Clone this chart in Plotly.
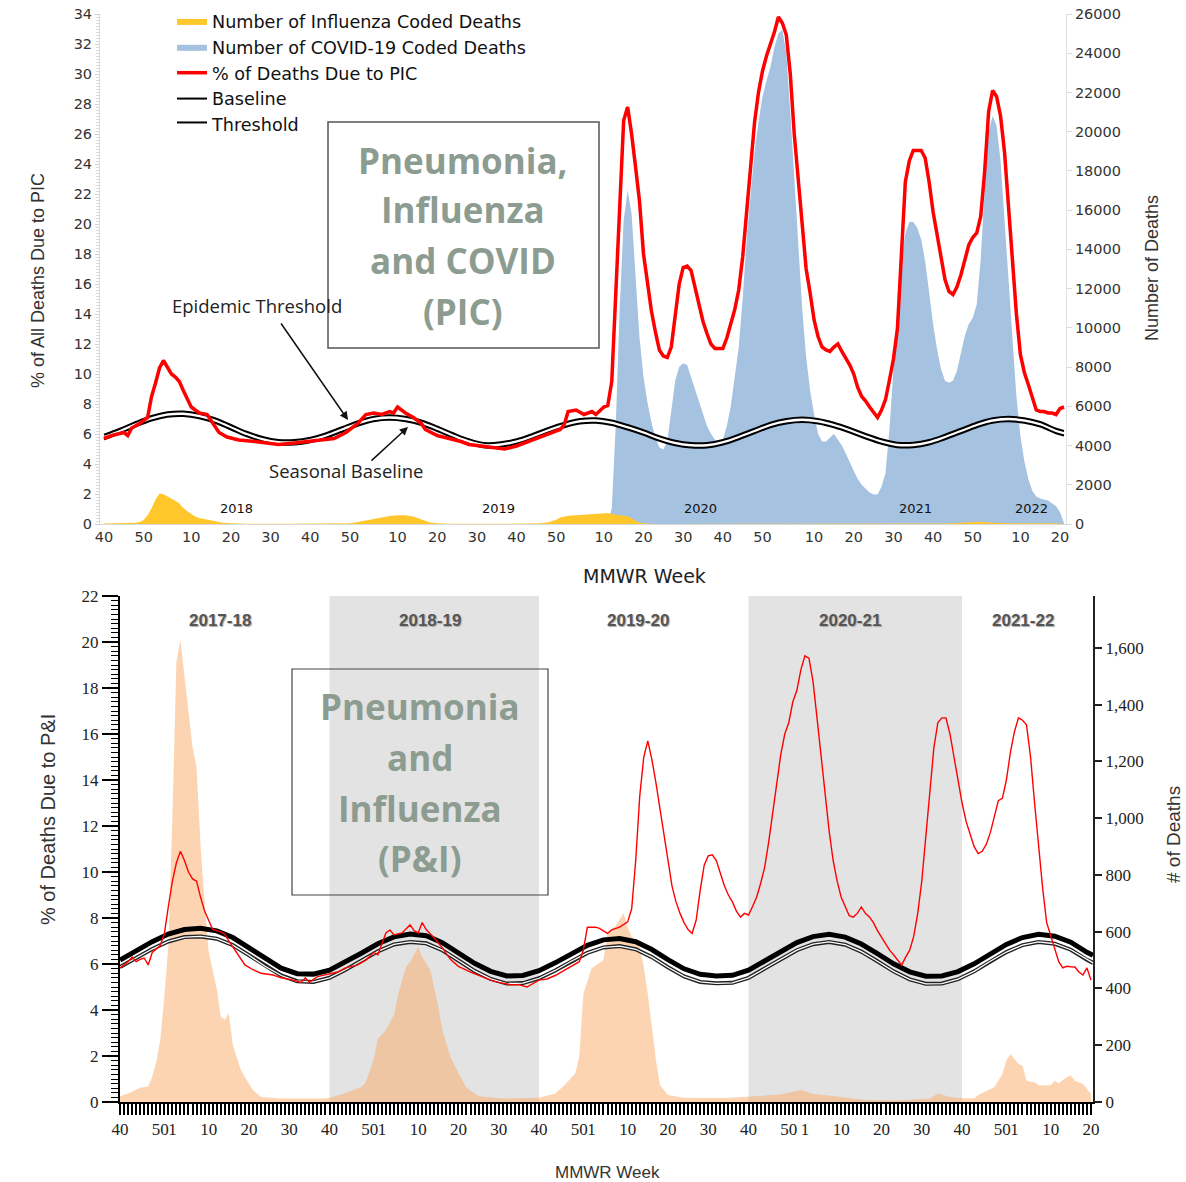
import plotly.graph_objects as go

W, H = 1186, 1182

# ---------------- TOP CHART DATA (week index 0 = MMWR week 40 of 2017) ----------------
PIC_WEEKS = [0, 2, 5, 6, 7, 9, 11, 12, 13, 14, 15, 16, 17, 18, 19, 20, 21, 22, 23, 24, 26, 27, 28, 29, 31, 34, 38,
             41, 44, 48, 51, 54, 58, 61, 64, 66, 68, 70, 72, 73, 74, 75, 76, 78, 80, 81, 84, 87, 90, 92, 95, 99,
             101, 104, 107, 111, 114, 115, 116, 117, 119, 121, 123, 124, 126, 127, 128, 129, 130, 131, 132, 133,
             134, 135, 136, 137, 138, 139, 140, 141, 142, 143, 144, 145, 146, 147, 148, 149, 150, 151, 152, 153,
             154, 156, 157, 158, 159, 160, 161, 162, 163, 164, 165, 166, 167, 168, 169, 170, 171, 172, 173, 174,
             175, 176, 177, 178, 179, 180, 181, 182, 183, 184, 185, 186, 187, 188, 189, 190, 191, 192, 193, 194,
             195, 196, 197, 198, 199, 200, 201, 202, 203, 204, 205, 206, 207, 208, 209, 210, 211, 212, 213, 214,
             215, 216, 217, 218, 219, 220, 221, 222, 223, 224, 225, 226, 227, 228, 229, 230, 231, 232, 233, 234,
             235, 236, 237, 238, 239, 240, 241, 242]
PIC_PCT = [5.7, 5.9, 6.1, 5.9, 6.4, 6.7, 7.1, 8.5, 9.4, 10.4, 10.9, 10.4, 10.0, 9.8, 9.5, 8.9, 8.3, 7.8, 7.6, 7.4,
           7.3, 6.9, 6.5, 6.1, 5.8, 5.6, 5.5, 5.4, 5.3, 5.4, 5.5, 5.6, 5.7, 6.1, 6.7, 7.3, 7.4, 7.3, 7.5, 7.4, 7.8,
           7.6, 7.4, 7.1, 6.7, 6.3, 5.9, 5.7, 5.5, 5.3, 5.2, 5.1, 5.0, 5.2, 5.5, 5.9, 6.2, 6.3, 6.6, 7.5, 7.6, 7.3,
           7.5, 7.3, 7.8, 7.9, 9.5, 15.5, 22.0, 26.9, 27.8, 26.0, 23.8, 21.5, 18.0, 16.0, 14.2, 12.8, 11.6, 11.2,
           11.1, 11.8, 14.0, 16.0, 17.1, 17.2, 16.9, 15.8, 14.5, 13.5, 12.7, 12.0, 11.7, 11.7, 12.4, 13.3, 14.3,
           15.6, 17.8, 20.8, 24.0, 26.8, 28.8, 30.2, 31.2, 32.0, 32.8, 33.8, 33.4, 32.6, 30.0, 26.0, 23.0, 19.5,
           17.0, 15.4, 13.6, 12.5, 11.8, 11.6, 11.5, 11.8, 12.0, 11.5, 11.1, 10.6, 10.0, 9.1, 8.5, 8.2, 7.8, 7.4,
           7.1, 7.6, 8.3, 9.6, 11.0, 13.0, 18.5, 22.8, 24.2, 24.9, 24.9, 24.9, 24.4, 22.8, 20.8, 19.4, 17.8, 16.3,
           15.5, 15.3, 15.8, 16.6, 17.6, 18.6, 19.1, 19.4, 20.5, 23.5, 27.5, 28.9, 28.5, 27.2, 24.8, 21.2, 17.4,
           14.0, 11.3, 10.1, 9.3, 8.4, 7.6, 7.5, 7.5, 7.4, 7.4, 7.3, 7.7, 7.8]

FLU_TOP_WEEKS = [0, 5, 8, 9, 10, 11, 12, 13, 14, 15, 16, 17, 18, 19, 20, 21, 22, 23, 24, 25, 26, 27, 28, 29, 30, 32,
                 36, 45, 55, 60, 62, 64, 66, 68, 70, 72, 74, 76, 78, 80, 82, 84, 88, 100, 106, 110, 112, 114, 115,
                 117, 119, 121, 123, 125, 127, 128, 129, 130, 131, 132, 133, 134, 135, 137, 140, 170, 212, 216,
                 219, 221, 223, 226, 232, 240, 242]
FLU_TOP_DEATHS = [20, 30, 60, 100, 200, 450, 800, 1250, 1560, 1520, 1420, 1300, 1180, 1050, 820, 650, 500, 380, 300,
                  260, 220, 160, 120, 90, 60, 35, 15, 10, 15, 25, 40, 100, 180, 260, 330, 410, 450, 440, 380, 220,
                  90, 35, 12, 10, 20, 40, 90, 220, 330, 420, 440, 470, 500, 540, 560, 510, 480, 470, 450, 400, 300,
                  150, 60, 15, 5, 5, 20, 60, 110, 120, 80, 50, 40, 40, 0]

COVID_WEEKS = list(range(127, 243))
COVID_DEATHS = [0, 800, 5000, 11000, 15500, 17000, 15800, 12800, 9500, 7500, 6200, 5200, 4400, 3900, 3800, 4200,
                5800, 7300, 8000, 8200, 8100, 7500, 6900, 6300, 5600, 5000, 4600, 4300, 4200, 4300, 5000, 6000,
                7500, 9000, 11500, 14500, 16800, 19000, 20500, 21800, 22600, 23300, 24300, 25000, 25200, 24000,
                21000, 17500, 14000, 11000, 8500, 6800, 5600, 4600, 4200, 4200, 4400, 4600, 4300, 4000, 3600, 3100,
                2700, 2300, 2000, 1800, 1600, 1500, 1500, 1900, 2600, 4800, 8000, 11000, 13500, 14800, 15400,
                15400, 15100, 14500, 13400, 11800, 10200, 8900, 7900, 7300, 7200, 7300, 7800, 8700, 9600, 10200,
                10500, 11200, 13500, 17000, 20000, 20800, 20300, 18500, 15500, 12000, 9000, 6500, 4500, 3200,
                2300, 1700, 1400, 1300, 1250, 1200, 1050, 900, 600, 50]

TOP_CURVE_WEEKS = [0, 4, 8, 12, 16, 20, 24, 28, 32, 36, 40, 44, 48, 52, 56, 60, 64, 68, 72, 76, 80, 84, 88, 92, 96,
                   100, 104, 108, 112, 116, 120, 124, 128, 132, 136, 140, 144, 148, 152, 156, 160, 164, 168, 172,
                   176, 180, 184, 188, 192, 196, 200, 204, 208, 212, 216, 220, 224, 228, 232, 236, 240, 242]
TOP_BASELINE = [5.65, 6.05, 6.5, 6.9, 7.15, 7.2, 7.05, 6.75, 6.3, 5.85, 5.5, 5.3, 5.3, 5.45, 5.75, 6.15, 6.55,
                6.85, 6.95, 6.85, 6.6, 6.2, 5.75, 5.35, 5.1, 5.15, 5.35, 5.7, 6.1, 6.45, 6.7, 6.75, 6.6, 6.3, 5.95,
                5.55, 5.25, 5.1, 5.1, 5.3, 5.65, 6.05, 6.45, 6.7, 6.8, 6.7, 6.45, 6.1, 5.7, 5.35, 5.12, 5.12, 5.3,
                5.65, 6.05, 6.45, 6.75, 6.85, 6.75, 6.5, 6.05, 5.9]
TOP_THRESHOLD = [5.95, 6.35, 6.8, 7.2, 7.45, 7.5, 7.35, 7.05, 6.6, 6.15, 5.8, 5.6, 5.6, 5.75, 6.05, 6.45, 6.85,
                 7.15, 7.25, 7.15, 6.9, 6.5, 6.05, 5.65, 5.4, 5.45, 5.65, 6.0, 6.4, 6.75, 7.0, 7.05, 6.9, 6.6, 6.25,
                 5.85, 5.55, 5.4, 5.4, 5.6, 5.95, 6.35, 6.75, 7.0, 7.1, 7.0, 6.75, 6.4, 6.0, 5.65, 5.42, 5.42, 5.6,
                 5.95, 6.35, 6.75, 7.05, 7.15, 7.05, 6.8, 6.35, 6.2]

TOP_TICK_WEEKS = [0, 10, 22, 32, 42, 52, 62, 74, 84, 94, 104, 114, 126, 136, 146, 156, 166, 179, 189, 199, 209, 219,
                  231, 241]
TOP_TICK_TEXT = ["40", "50", "10", "20", "30", "40", "50", "10", "20", "30", "40", "50", "10", "20", "30", "40",
                 "50", "10", "20", "30", "40", "50", "10", "20"]
YEAR_LABELS = ["2018", "2019", "2020", "2021", "2022"]

# ---------------- BOTTOM CHART DATA ----------------
PI_WEEKS = [0, 2, 3, 4, 5, 6, 7, 8, 10, 11, 12, 13, 14, 15, 16, 17, 18, 19, 20, 21, 22, 23, 25, 26, 27, 29, 31, 33,
            35, 38, 40, 43, 45, 46, 47, 49, 51, 54, 56, 59, 61, 63, 64, 66, 67, 68, 70, 72, 73, 74, 75, 76, 78, 80,
            82, 84, 87, 89, 92, 94, 97, 99, 101, 104, 106, 108, 110, 112, 114, 115, 116, 118, 119, 121, 122, 124,
            125, 126, 127, 128, 129, 130, 131, 132, 133, 134, 135, 136, 137, 138, 139, 140, 141, 142, 143, 144, 145,
            146, 147, 148, 149, 150, 151, 152, 153, 154, 155, 156, 157, 158, 159, 160, 161, 162, 163, 164, 165, 166,
            167, 168, 169, 170, 171, 172, 173, 174, 175, 176, 177, 178, 179, 180, 181, 182, 183, 184, 185, 186, 187,
            188, 189, 190, 191, 192, 193, 194, 195, 196, 197, 198, 199, 200, 201, 202, 203, 204, 205, 206, 207, 208,
            209, 210, 211, 212, 213, 214, 215, 216, 217, 218, 219, 220, 221, 222, 223, 224, 225, 226, 227, 228, 229,
            230, 231, 232, 233, 234, 235, 236, 237, 238, 239, 240, 241]
PI_PCT = [5.83, 6.1, 6.3, 6.1, 6.2, 6.26, 5.96, 6.5, 6.8, 7.3, 8.5, 9.6, 10.4, 10.9, 10.5, 10.0, 9.7, 9.6, 8.9, 8.3,
          7.9, 7.5, 7.4, 7.3, 7.0, 6.5, 5.96, 5.75, 5.6, 5.52, 5.4, 5.3, 5.2, 5.4, 5.2, 5.45, 5.52, 5.65, 5.83, 5.96,
          6.17, 6.5, 6.4, 7.35, 7.48, 7.26, 7.35, 7.7, 7.45, 7.35, 7.8, 7.5, 7.13, 6.7, 6.2, 5.9, 5.65, 5.5, 5.3, 5.2,
          5.1, 5.1, 5.0, 5.3, 5.35, 5.5, 5.7, 5.9, 6.1, 6.6, 7.6, 7.6, 7.55, 7.33, 7.48, 7.6, 7.7, 7.83, 8.4, 10.5,
          13.3, 15.0, 15.7, 14.9, 13.9, 12.8, 11.7, 10.4, 9.4, 8.7, 8.2, 7.8, 7.5, 7.33, 7.9, 9.2, 10.3, 10.7, 10.75,
          10.5, 9.9, 9.4, 9.0, 8.7, 8.3, 8.04, 8.2, 8.13, 8.5, 8.9, 9.5, 10.2, 11.3, 12.6, 13.7, 15.1, 16.0, 16.5,
          17.4, 17.9, 18.8, 19.4, 19.3, 18.3, 16.7, 15.0, 13.4, 11.8, 10.5, 9.6, 8.9, 8.5, 8.1, 8.04, 8.2, 8.48, 8.2,
          8.05, 7.8, 7.45, 7.17, 6.9, 6.6, 6.4, 6.2, 5.95, 6.3, 6.6, 7.2, 8.2, 9.6, 11.5, 13.6, 15.4, 16.5, 16.7,
          16.7, 16.0, 15.0, 13.9, 13.0, 12.2, 11.6, 11.1, 10.8, 10.9, 11.2, 11.7, 12.4, 13.1, 13.2, 14.0, 15.2, 16.1,
          16.7, 16.6, 16.4, 15.0, 13.0, 11.0, 9.3, 7.8, 7.2, 6.6, 6.1, 5.83, 5.9, 5.88, 5.87, 5.65, 5.52, 5.83, 5.3]

FLU_BOT_WEEKS = [0, 2, 5, 7, 8, 9, 10, 11, 12, 13, 14, 15, 16, 17, 18, 19, 20, 21, 22, 24, 25, 26, 27, 28, 30, 31,
                 33, 35, 40, 50, 52, 56, 60, 61, 63, 64, 66, 68, 69, 71, 72, 74, 75, 77, 79, 80, 82, 84, 86, 89, 95,
                 104, 108, 110, 113, 114, 115, 117, 118, 120, 121, 123, 125, 126, 127, 129, 130, 131, 133, 134, 136,
                 140, 150, 156, 160, 164, 169, 172, 177, 181, 185, 193, 201, 203, 206, 208, 212, 213, 217, 219, 220,
                 221, 223, 224, 225, 227, 228, 231, 232, 233, 235, 236, 237, 239, 241]
FLU_BOT_DEATHS = [20, 30, 50, 55, 90, 140, 220, 370, 550, 1000, 1550, 1628, 1500, 1380, 1250, 1180, 900, 700, 530,
                  400, 300, 290, 313, 200, 113, 88, 42, 18, 12, 12, 14, 32, 53, 70, 152, 222, 254, 307, 377, 476,
                  493, 546, 511, 465, 335, 254, 159, 102, 50, 20, 12, 15, 30, 55, 100, 160, 380, 470, 480, 500, 595,
                  620, 666, 617, 581, 546, 476, 380, 150, 60, 25, 15, 14, 18, 21, 26, 42, 28, 21, 14, 7, 5, 12, 30,
                  18, 14, 12, 25, 52, 99, 146, 169, 134, 128, 75, 70, 59, 59, 75, 66, 87, 93, 75, 63, 28]

BOT_CURVE_WEEKS = [0, 4, 8, 12, 16, 20, 24, 28, 32, 36, 40, 44, 48, 52, 56, 60, 64, 68, 72, 76, 80, 84, 88, 92, 96,
                   100, 104, 108, 112, 116, 120, 124, 128, 132, 136, 140, 144, 148, 152, 156, 160, 164, 168, 172,
                   176, 180, 184, 188, 192, 196, 200, 204, 208, 212, 216, 220, 224, 228, 232, 236, 240, 241.5]
BOT_BASELINE = [5.87, 6.25, 6.65, 6.98, 7.17, 7.2, 7.1, 6.82, 6.38, 5.9, 5.5, 5.25, 5.22, 5.4, 5.75, 6.15, 6.55,
                6.85, 6.96, 6.9, 6.6, 6.15, 5.7, 5.35, 5.15, 5.17, 5.38, 5.72, 6.12, 6.48, 6.72, 6.78, 6.64, 6.3,
                5.86, 5.46, 5.22, 5.16, 5.18, 5.4, 5.8, 6.2, 6.6, 6.86, 6.96, 6.84, 6.54, 6.12, 5.68, 5.33, 5.14,
                5.15, 5.34, 5.68, 6.12, 6.52, 6.82, 6.96, 6.88, 6.62, 6.18, 6.05]
BOT_THRESHOLD = [6.17, 6.57, 6.97, 7.3, 7.5, 7.55, 7.44, 7.15, 6.71, 6.22, 5.82, 5.58, 5.56, 5.73, 6.08, 6.48, 6.88,
                 7.18, 7.3, 7.23, 6.93, 6.48, 6.03, 5.68, 5.48, 5.5, 5.71, 6.05, 6.45, 6.81, 7.05, 7.11, 6.97, 6.63,
                 6.19, 5.79, 5.55, 5.48, 5.51, 5.73, 6.13, 6.53, 6.93, 7.19, 7.29, 7.17, 6.87, 6.45, 6.01, 5.66,
                 5.47, 5.48, 5.67, 6.01, 6.45, 6.85, 7.15, 7.29, 7.21, 6.95, 6.51, 6.38]

BOT_TICK_WEEKS = [0, 10, 13, 22, 32, 42, 52, 62, 65, 74, 84, 94, 104, 114, 117, 126, 136, 146, 156, 166, 170, 179,
                  189, 199, 209, 219, 222, 231, 241]
BOT_TICK_TEXT = ["40", "50", "1", "10", "20", "30", "40", "50", "1", "10", "20", "30", "40", "50", "1", "10", "20",
                 "30", "40", "50", "1", "10", "20", "30", "40", "50", "1", "10", "20"]
SEASON_LABELS = ["2017-18", "2018-19", "2019-20", "2020-21", "2021-22"]
SHADED_SEASONS = [(52, 104), (156, 209)]

# ---------------- STYLE ----------------
DEJAVU = "DejaVu Sans"
ARIAL = "Liberation Sans"
SERIF = "Liberation Serif"
OPEN = "Open Sans"
RED = "#ff0000"
BLUE = "#a5c2e0"
YELLOW = "#ffc72c"
PEACH = "rgba(250,170,100,0.5)"
BOXTXT = "#8c9c90"


def px(x):
    return x / W


def py(y):
    return 1 - y / H


fig = go.Figure()

# ---- top chart: areas on base axis (deaths, right side) ----
fig.add_trace(go.Scatter(x=COVID_WEEKS, y=COVID_DEATHS, mode="lines", line=dict(width=0, color=BLUE),
                         fill="tozeroy", fillcolor=BLUE, name="Number of COVID-19 Coded Deaths",
                         xaxis="x", yaxis="y", legendrank=2))
fig.add_trace(go.Scatter(x=FLU_TOP_WEEKS, y=FLU_TOP_DEATHS, mode="lines", line=dict(width=0, color=YELLOW),
                         fill="tozeroy", fillcolor=YELLOW, name="Number of Influenza Coded Deaths",
                         xaxis="x", yaxis="y", legendrank=1))
# ---- top chart: lines on overlaying axis (% left side) ----
fig.add_trace(go.Scatter(x=TOP_CURVE_WEEKS, y=TOP_BASELINE, mode="lines",
                         line=dict(color="black", width=2, shape="spline"), name="Baseline",
                         xaxis="x", yaxis="y2", legendrank=4))
fig.add_trace(go.Scatter(x=TOP_CURVE_WEEKS, y=TOP_THRESHOLD, mode="lines",
                         line=dict(color="black", width=2, shape="spline"), fill="tonexty", fillcolor="white",
                         name="Threshold", xaxis="x", yaxis="y2", legendrank=5))
fig.add_trace(go.Scatter(x=PIC_WEEKS, y=PIC_PCT, mode="lines", line=dict(color=RED, width=3.5),
                         name="% of Deaths Due to PIC", xaxis="x", yaxis="y2", legendrank=3))

# ---- bottom chart ----
fig.add_trace(go.Scatter(x=FLU_BOT_WEEKS, y=FLU_BOT_DEATHS, mode="lines", line=dict(width=0, color=PEACH),
                         fill="tozeroy", fillcolor=PEACH, showlegend=False, name="Influenza deaths",
                         xaxis="x2", yaxis="y3"))
fig.add_trace(go.Scatter(x=BOT_CURVE_WEEKS, y=BOT_THRESHOLD, mode="lines", line=dict(color="black", width=5),
                         showlegend=False, name="Epidemic threshold", xaxis="x2", yaxis="y4"))
fig.add_trace(go.Scatter(x=BOT_CURVE_WEEKS, y=BOT_BASELINE, mode="lines", line=dict(color="#222", width=4),
                         showlegend=False, name="Seasonal baseline", xaxis="x2", yaxis="y4"))
fig.add_trace(go.Scatter(x=BOT_CURVE_WEEKS, y=BOT_BASELINE, mode="lines", line=dict(color="white", width=1.3),
                         showlegend=False, hoverinfo="skip", xaxis="x2", yaxis="y4"))
fig.add_trace(go.Scatter(x=PI_WEEKS, y=PI_PCT, mode="lines", line=dict(color=RED, width=1.4),
                         showlegend=False, name="% of Deaths Due to P&I", xaxis="x2", yaxis="y4"))

shapes = []
for a, b in SHADED_SEASONS:
    shapes.append(dict(type="rect", xref="x2", yref="y3 domain", x0=a, x1=b, y0=0, y1=1,
                       fillcolor="#e3e3e3", line=dict(width=0), layer="below"))
shapes.append(dict(type="rect", xref="paper", yref="paper", x0=px(328), x1=px(599), y0=py(348), y1=py(122),
                   line=dict(color="#555", width=1.5), fillcolor="rgba(0,0,0,0)"))
shapes.append(dict(type="rect", xref="paper", yref="paper", x0=px(292), x1=px(548), y0=py(895), y1=py(669),
                   line=dict(color="#444", width=1.2), fillcolor="rgba(0,0,0,0)"))

annotations = []


def ann(text, x, y, size, family, color="#222", angle=0, weight="normal", shadow=None):
    f = dict(size=size, family=family, color=color, weight=weight)
    if shadow:
        f["shadow"] = shadow
    annotations.append(dict(text=text, x=px(x), y=py(y), xref="paper", yref="paper", showarrow=False,
                            xanchor="center", yanchor="middle", textangle=angle, font=f))


# top texts
ann("% of All Deaths Due to PIC", 38, 281, 18, ARIAL, "#333", -90)
ann("Number of Deaths", 1152, 268, 18, ARIAL, "#333", -90)
ann("MMWR Week", 644, 576, 19, DEJAVU, "#222")
for lbl, xx in zip(YEAR_LABELS, [236, 498, 700, 915, 1031]):
    ann(lbl, xx, 508, 13, DEJAVU, "#111")
ann("Epidemic Threshold", 257, 305, 18.5, OPEN, "#222")
ann("Seasonal Baseline", 346, 470, 18.5, OPEN, "#222")
for line, yy in zip(["Pneumonia,", "Influenza", "and COVID", "(PIC)"], [160, 210, 260, 311]):
    ann(line, 463, yy, 35, OPEN, BOXTXT, weight="bold")
# bottom texts
ann("% of Deaths Due to P&I", 48, 820, 20, ARIAL, "#333", -90)
ann("# of Deaths", 1173, 835, 19, ARIAL, "#333", -90)
ann("MMWR Week", 607, 1172, 17, ARIAL, "#333")
for lbl, xx in zip(SEASON_LABELS, [220, 430, 638, 850, 1023]):
    ann(lbl, xx, 620, 17, ARIAL, "#555", weight="bold", shadow="1px 1px 1px #aaa")
for line, yy in zip(["Pneumonia", "and", "Influenza", "(P&I)"], [706, 757, 808, 858]):
    ann(line, 420, yy, 35, OPEN, BOXTXT, weight="bold")

# arrows
annotations.append(dict(text="", x=px(348), y=py(420), xref="paper", yref="paper", showarrow=True,
                        ax=-68, ay=-98, arrowhead=2, arrowsize=1.1, arrowwidth=1.5, arrowcolor="#111"))
annotations.append(dict(text="", x=px(408), y=py(427), xref="paper", yref="paper", showarrow=True,
                        ax=-38, ay=35, arrowhead=2, arrowsize=1.1, arrowwidth=1.5, arrowcolor="#111"))

top_x_dom = [px(100), px(1066)]
top_y_dom = [py(524), py(14)]
bot_x_dom = [px(120), px(1093)]
bot_y_dom = [py(1102), py(596)]

fig.update_layout(
    width=W, height=H, margin=dict(l=0, r=0, t=0, b=0),
    paper_bgcolor="white", plot_bgcolor="white", template="none",
    showlegend=True,
    legend=dict(x=px(172), y=py(3), xanchor="left", yanchor="top", bgcolor="rgba(0,0,0,0)",
                font=dict(family=DEJAVU, size=17.6, color="#111"), itemwidth=30, traceorder="normal"),
    xaxis=dict(domain=top_x_dom, range=[-1.0, 242.5], anchor="y", showgrid=False, zeroline=False,
               tickmode="array", tickvals=TOP_TICK_WEEKS, ticktext=TOP_TICK_TEXT, tickangle=0,
               tickfont=dict(family=DEJAVU, size=14.5, color="#333"), showline=True, linecolor="#d9d9d9",
               ticks=""),
    yaxis=dict(domain=top_y_dom, range=[0, 26000], anchor="x", side="right", showgrid=False, zeroline=False,
               dtick=2000, tickformat="d", tickfont=dict(family=DEJAVU, size=14.5, color="#333"),
               showline=True, linecolor="#e0e0e0", ticks="outside", ticklen=5, tickcolor="#dcdcdc"),
    yaxis2=dict(range=[0, 34], overlaying="y", anchor="x", side="left", showgrid=False, zeroline=False,
                dtick=2, tickfont=dict(family=DEJAVU, size=14.5, color="#333"), showline=True,
                linecolor="#d9d9d9", ticks="outside", ticklen=4, tickcolor="#d0d0d0",
                minor=dict(dtick=0.2, ticks="outside", ticklen=3, tickcolor="#dadada")),
    xaxis2=dict(domain=bot_x_dom, range=[0, 241.5], anchor="y3", showgrid=False, zeroline=False,
                tickmode="array", tickvals=BOT_TICK_WEEKS, ticktext=BOT_TICK_TEXT, tickangle=0,
                tickfont=dict(family=SERIF, size=17, color="#222"), showline=True, linecolor="black",
                linewidth=2, ticks="outside", ticklen=11, tickwidth=1.5, tickcolor="black",
                minor=dict(tickmode="linear", tick0=0, dtick=1, ticks="outside", ticklen=11, tickwidth=1.5,
                           tickcolor="black")),
    yaxis3=dict(domain=bot_y_dom, range=[0, 1783], anchor="x2", side="right", showgrid=False, zeroline=False,
                dtick=200, tickformat=",", tickfont=dict(family=SERIF, size=17, color="#222"), showline=True,
                linecolor="#222", linewidth=2, ticks="outside", ticklen=7, tickwidth=2, tickcolor="#222"),
    yaxis4=dict(range=[0, 22], overlaying="y3", anchor="x2", side="left", showgrid=False, zeroline=False,
                dtick=2, tickfont=dict(family=SERIF, size=17, color="#222"), showline=True, linecolor="black",
                linewidth=2, ticks="outside", ticklen=16, tickwidth=2, tickcolor="black",
                minor=dict(dtick=0.2, ticks="outside", ticklen=7, tickwidth=1, tickcolor="black")),
    shapes=shapes, annotations=annotations,
)

fig.write_html("out.html")
